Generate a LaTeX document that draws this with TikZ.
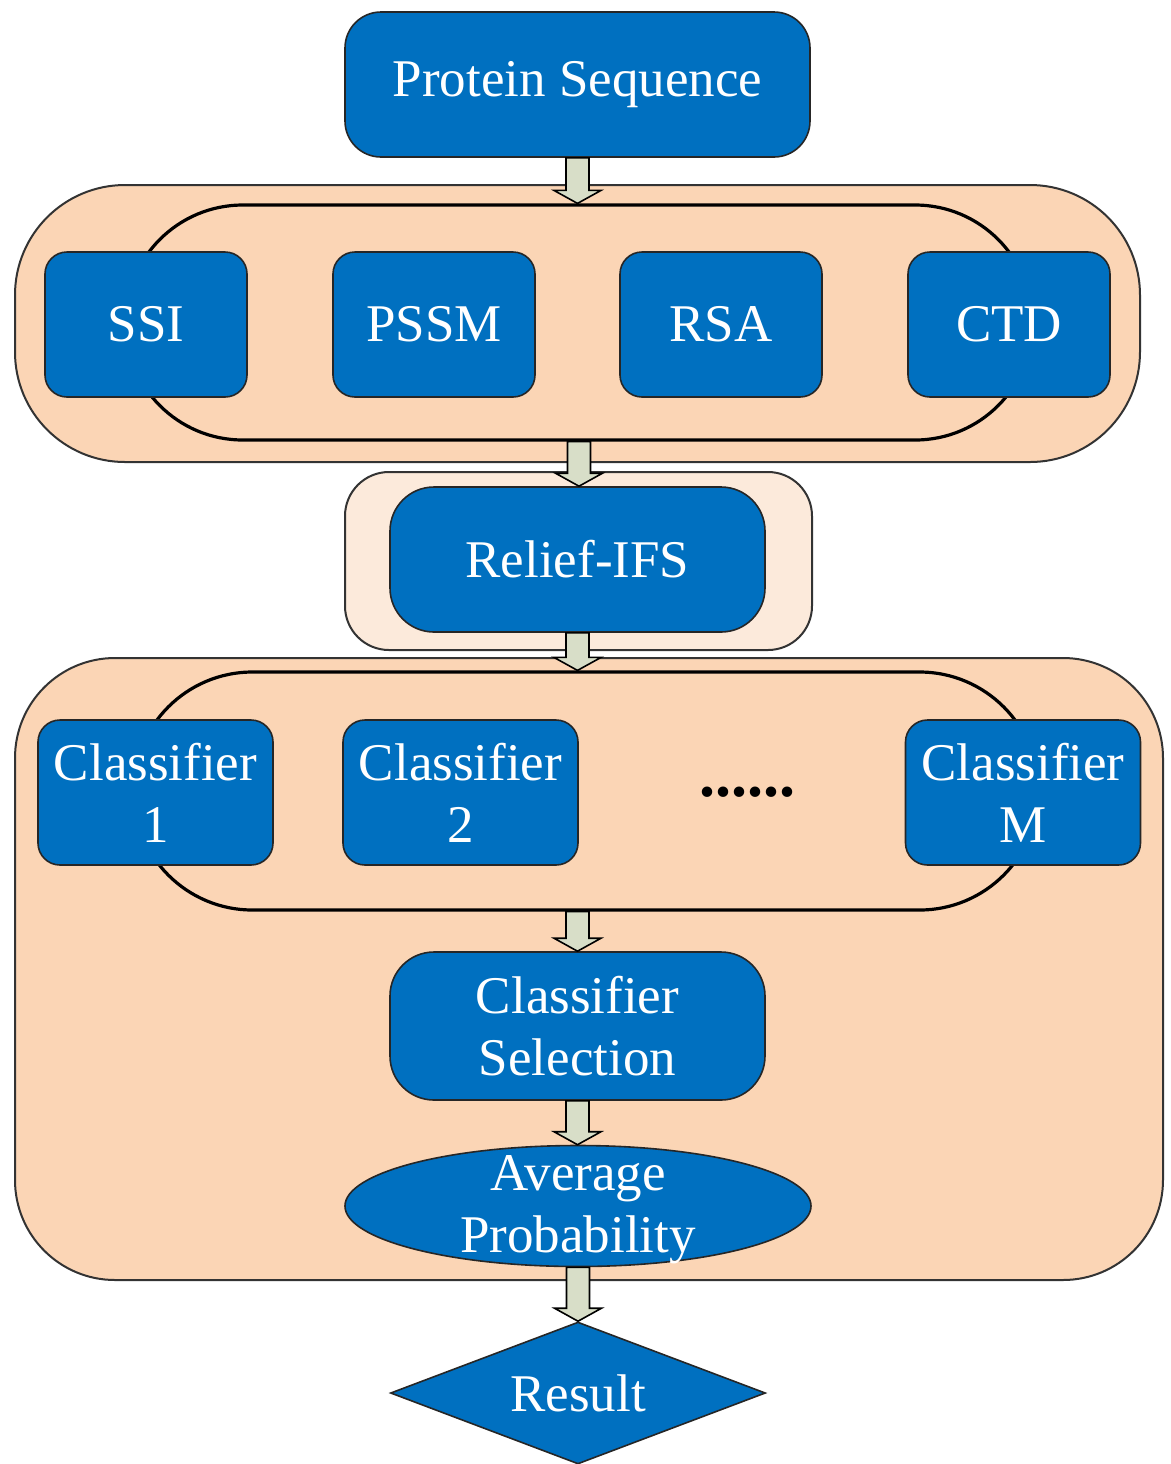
\documentclass[tikz,border=0pt]{standalone}
\usepackage{fontspec}
\setmainfont{Liberation Serif}
\usetikzlibrary{shapes.geometric,calc}
\definecolor{boxblue}{RGB}{0,112,192}
\definecolor{peach}{RGB}{251,213,181}
\definecolor{lightpeach}{RGB}{252,234,219}
\definecolor{arrfill}{RGB}{216,222,200}
\tikzset{
  txt/.style={text=white,font=\fontsize{26.5pt}{31pt}\selectfont,align=center},
  bluebox/.style={draw=black!85,line width=0.8pt,fill=boxblue,rounded corners=11pt,inner sep=0pt,txt},
  bigbox/.style={bluebox,rounded corners=22pt},
  group/.style={draw=black!80,line width=1pt,fill=peach,inner sep=0pt},
  loopline/.style={draw=black,line width=1.6pt,inner sep=0pt},
  barrow/.style={draw=black,line width=0.8pt,fill=arrfill,line join=miter}
}
% block arrow aligned on the source's x
\newcommand\blockarr[2]{%
  \draw[barrow] let \p1=(#1), \p2=(#2) in
    (\x1-5.75pt,\y1) -- (\x1+5.75pt,\y1) -- (\x1+5.75pt,\y2+6.5pt) -- (\x1+11.75pt,\y2+6.5pt)
    -- (\x1,\y2) -- (\x1-11.75pt,\y2+6.5pt) -- (\x1-5.75pt,\y2+6.5pt) -- cycle;}
% block arrow aligned on the target's x
\newcommand\blockarrt[2]{%
  \draw[barrow] let \p1=(#1), \p2=(#2) in
    (\x2-5.75pt,\y1) -- (\x2+5.75pt,\y1) -- (\x2+5.75pt,\y2+6.5pt) -- (\x2+11.75pt,\y2+6.5pt)
    -- (\x2,\y2) -- (\x2-11.75pt,\y2+6.5pt) -- (\x2-5.75pt,\y2+6.5pt) -- cycle;}
\begin{document}
\begin{tikzpicture}[x=0.5pt,y=-0.5pt]
\useasboundingbox (0,0) rectangle (1171,1464);
% groups
\node[group,rounded corners=55pt,minimum width=562.5pt,minimum height=138.5pt] (g1) at (577.5,323.5) {};
\node[group,fill=lightpeach,rounded corners=22pt,minimum width=233.5pt,minimum height=89pt] (g2) at (578.5,561) {};
\node[group,rounded corners=50pt,minimum width=574pt,minimum height=311pt] (g3) at (589,969) {};
% loops
\node[loopline,rounded corners=58.7pt,minimum width=453.5pt,minimum height=117.5pt] (loop1) at (579,322.5) {};
\node[loopline,rounded corners=59.5pt,minimum width=452.5pt,minimum height=119pt] (loop2) at (586,791) {};
% top
\node[bigbox,rounded corners=18pt,minimum width=232.5pt,minimum height=72.5pt] (prot) at (577.5,84.5) {Protein Sequence};
% features
\node[bluebox,minimum width=101pt,minimum height=72.5pt] (ssi) at (146,324.5) {SSI};
\node[bluebox,minimum width=101pt,minimum height=72.5pt] (pssm) at (434,324.5) {PSSM};
\node[bluebox,minimum width=101pt,minimum height=72.5pt] (rsa) at (721,324.5) {RSA};
\node[bluebox,minimum width=101pt,minimum height=72.5pt] (ctd) at (1009,324.5) {CTD};
% relief
\node[bigbox,minimum width=187.5pt,minimum height=72.5pt] (relief) at (577.5,559.5) {Relief-IFS};
% classifiers
\node[bluebox,minimum width=117.5pt,minimum height=72.5pt] (c1) at (155.5,792.5) {Classifier\\1};
\node[bluebox,minimum width=117.5pt,minimum height=72.5pt] (c2) at (460.5,792.5) {Classifier\\2};
\node[bluebox,minimum width=117.5pt,minimum height=72.5pt] (cm) at (1023,792.5) {Classifier\\M};
\node[anchor=base,font=\fontsize{32pt}{36pt}\selectfont\bfseries,inner sep=0pt] (dots) at (747,796) {......};
\node[bigbox,minimum width=187.5pt,minimum height=74pt] (csel) at (577.5,1026) {Classifier\\Selection};
\node[ellipse,draw=black!85,line width=0.8pt,fill=boxblue,inner sep=0pt,minimum width=233pt,minimum height=60.5pt,
  label={[txt,inner sep=0pt,yshift=-2pt]center:Average\\Probability}] (avg) at (578,1206) {};
\node[diamond,draw=black!85,line width=0.8pt,fill=boxblue,inner sep=0pt,minimum width=187.5pt,minimum height=71pt,
  label={[txt,inner sep=0pt]center:Result}] (result) at (578,1393) {};
% arrows
\blockarr{prot.south}{loop1.north}
\blockarr{loop1.south}{relief.north}
\blockarr{relief.south}{loop2.north}
\blockarrt{loop2.south}{csel.north}
\blockarr{csel.south}{avg.north}
\blockarr{avg.south}{result.north}
\end{tikzpicture}
\end{document}
